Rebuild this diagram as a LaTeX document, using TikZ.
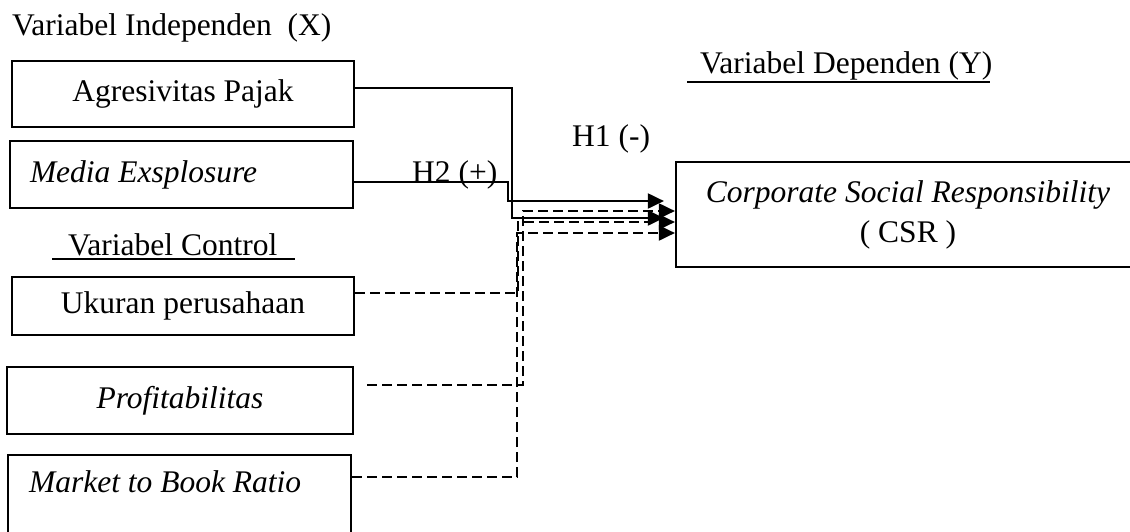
\documentclass[tikz,border=0pt]{standalone}
\usepackage{fontspec}
\setmainfont{Liberation Serif}
\usepackage{tikz}
\usetikzlibrary{
  arrows.meta,
  positioning,
  calc,
}

\begin{document}
\begin{tikzpicture}[
  x=1pt, y=-1pt,
  font=\fontsize{31.5}{40}\selectfont,
  varbox/.style={draw, line width=2.2pt, rectangle, inner ysep=0pt},
  txt/.style={inner sep=0pt},
  effect/.style={line width=2pt, -{Triangle[length=16pt,width=15pt]}},
  control/.style={line width=2pt, dash pattern=on 10pt off 5pt,
    -{Triangle[length=16pt,width=15pt]}},
]
  \path[use as bounding box] (0,0) rectangle (1130,531);
  \clip (0,0) rectangle (1130,531);

  % Headings
  \node[txt, anchor=base west] (indep) at (12,35) {Variabel Independen~ (X)};
  \node[txt, anchor=base west] (dep) at (700,73) {Variabel Dependen (Y)};
  \draw[line width=1.6pt] ([xshift=-13pt,yshift=-9pt]dep.base west)
    -- ([xshift=-3pt,yshift=-9pt]dep.base east);
  \node[txt, anchor=base west] (ctrl) at (68,255) {Variabel Control};
  \draw[line width=1.6pt] ([xshift=-16pt,yshift=-4pt]ctrl.base west)
    -- ([xshift=18pt,yshift=-4pt]ctrl.base east);

  % Independent variables
  \node[varbox, minimum width=342pt, minimum height=66pt] (agresif)
    at (183,94) {Agresivitas Pajak};
  \node[varbox, minimum width=343pt, minimum height=67pt, inner xsep=20pt,
    text width=303pt, align=flush left] (media)
    at (181.5,174.5) {\textit{Media Exsplosure}};

  % Control variables
  \node[varbox, minimum width=342pt, minimum height=58pt] (ukuran)
    at (183,306) {Ukuran perusahaan};
  \node[varbox, minimum width=346pt, minimum height=67pt] (profit)
    at (180,400.5) {\textit{Profitabilitas}};
  \node[varbox, anchor=north west, inner xsep=21pt, inner ysep=16pt,
    text width=301pt, align=flush left] (market)
    at (7,454) {\textit{Market to Book Ratio}\\ \mbox{}};

  % Dependent variable
  \node[varbox, minimum width=464pt, minimum height=105pt, align=center] (csr)
    at (908,214.5) {\textit{Corporate Social Responsibility}\\( CSR )};

  % Hypotheses
  \node[txt, anchor=base west] (h1) at (572,146) {H1 (-)};
  \node[txt, anchor=base west] (h2) at (412,182) {H2 (+)};

  % Solid paths
  \draw[effect] ([yshift=6pt]agresif.east) -- ++(157,0)
    |- ([xshift=-11pt,yshift=-3.5pt]csr.west);
  \draw[effect] ([yshift=-7.5pt]media.east) -- ++(154,0)
    |- ([xshift=-11pt,yshift=13.5pt]csr.west);

  % Dashed control paths
  \draw[control] ([yshift=13pt]ukuran.east) -- ++(163,0)
    |- ([yshift=-7.5pt]csr.west);
  \draw[control] ([xshift=13pt,yshift=15.5pt]profit.east) -- ++(156,0)
    |- ([yshift=3.5pt]csr.west);
  \draw[control] ([yshift=-23pt]market.north east) -- ++(165,0)
    |- ([yshift=-18.5pt]csr.west);
\end{tikzpicture}
\end{document}
